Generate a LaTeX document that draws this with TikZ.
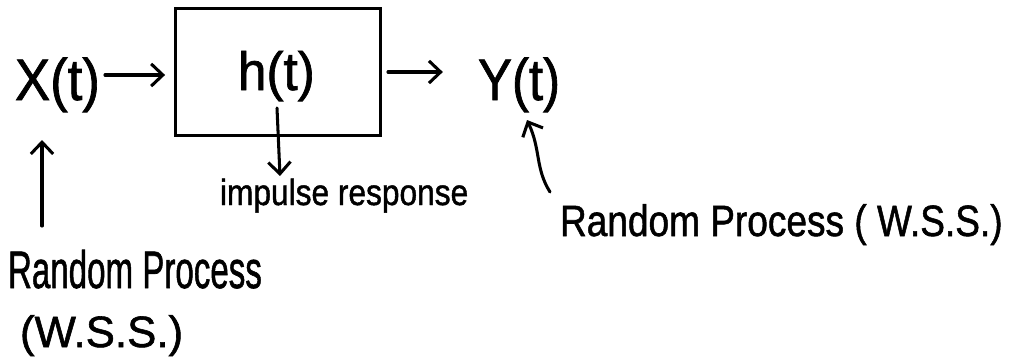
\documentclass[tikz,border=0pt]{standalone}
\usepackage{fontspec}
\setmainfont{Liberation Sans}
\newfontfamily\penfont[FakeBold=1.3]{Liberation Sans}
\usetikzlibrary{arrows.meta}
\newcommand{\hwtext}[4]{\penfont\fontsize{#1}{#1}\selectfont\scalebox{#2}[#3]{#4}}
\tikzset{
  lbl/.style={inner sep=0pt, outer sep=0pt, anchor=base west},
  arr/.style={line width=2.6pt, line cap=round, line join=round,
              -{Straight Barb[length=10pt,width=19pt,line width=2.6pt]}},
  blockbox/.style={draw, line width=1.8pt, minimum width=205*0.3mm, minimum height=127*0.3mm, inner sep=0pt}
}
\begin{document}
\begin{tikzpicture}[x=0.03cm, y=-0.03cm]
  \useasboundingbox (0,0) rectangle (1011,361);

  % system block and its label
  \node[blockbox] (box) at (278,72) {};
  \node[lbl] (h) at (238,90) {\hwtext{46pt}{0.95}{1}{h(t)}};

  % input and output signals
  \node[lbl] (X) at (15,100) {\hwtext{50pt}{0.9}{1}{X(t)}};
  \node[lbl] (Y) at (478,100) {\hwtext{50pt}{0.87}{1}{Y(t)}};

  % annotations
  \node[lbl] (imp) at (220,205) {\hwtext{26pt}{1.04}{1.2}{impulse response}};
  \node[lbl] (rpl) at (8,288) {\hwtext{36pt}{0.785}{1.25}{Random Process}};
  \node[lbl] (wss) at (20,347) {\hwtext{34pt}{1.1}{1.1}{(W.S.S.)}};
  \node[lbl] (rpr) at (560,236) {\hwtext{34pt}{0.93}{1.1}{Random Process ( W.S.S.)}};

  % signal flow
  \coordinate (xin) at (105,75);
  \coordinate (yout) at (388,72);
  \draw[arr] (xin) -- (xin -| box.west) [shorten >=8pt];
  \draw[arr] (yout) -- (442,72 -| Y.west) [shorten >=30pt];

  % annotation pointers
  \coordinate (hb) at (277,108);
  \draw[arr] (hb) -- (280,176);
  \coordinate (lp) at (42,226);
  \draw[arr] (lp) -- (42,140);
  \coordinate (rp) at (550,192);
  \draw[arr] (rp) .. controls (535,168) and (541,150) .. (527,120);
\end{tikzpicture}
\end{document}
